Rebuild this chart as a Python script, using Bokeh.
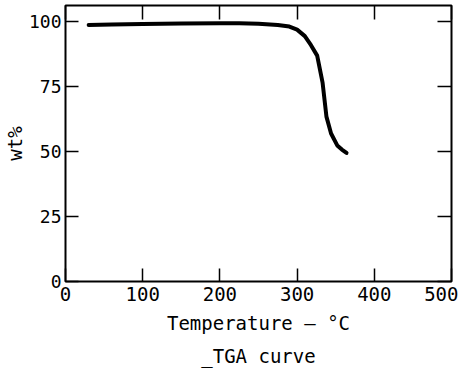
from bokeh.plotting import figure
from bokeh.models import LinearAxis, FixedTicker, Range1d
from bokeh.embed import file_html
from bokeh.resources import INLINE

# Data
temperature = [30, 60, 100, 150, 200, 225, 250, 275, 290, 300, 310, 318, 326, 333, 338, 344, 352, 358, 364]
weight_pct = [98.8, 99.0, 99.2, 99.4, 99.5, 99.5, 99.3, 98.8, 98.2, 97.0, 94.5, 91.0, 87.0, 76.6, 63.5, 57.0, 52.4, 50.8, 49.5]

x_ticks = [0, 100, 200, 300, 400, 500]
y_ticks = [0, 25, 50, 75, 100]
caption = "_TGA curve"

FONT = "DejaVu Sans Mono"
FS = "19px"

p = figure(width=458, height=369, output_backend="svg", toolbar_location=None,
           x_range=Range1d(0, 500), y_range=Range1d(0, 106.3),
           min_border_left=50, min_border_right=7, min_border_top=5, min_border_bottom=0,
           x_axis_label="Temperature \u2014 \u00b0C", y_axis_label="wt%")

p.line(temperature, weight_pct, line_width=4, line_color="black", line_cap="round", line_join="round")

p.grid.visible = False
p.outline_line_color = "black"
p.outline_line_width = 2
p.background_fill_color = "white"
p.border_fill_color = "white"

for ax in (p.xaxis[0], p.yaxis[0]):
    ax.axis_line_color = None
    ax.major_tick_in = 13
    ax.major_tick_out = 0
    ax.major_tick_line_width = 1.5
    ax.major_tick_line_color = "black"
    ax.minor_tick_line_color = None
    ax.major_label_text_font = FONT
    ax.major_label_text_font_size = FS
    ax.major_label_text_color = "black"
    ax.axis_label_text_font = FONT
    ax.axis_label_text_font_size = FS
    ax.axis_label_text_font_style = "normal"
    ax.axis_label_text_color = "black"

p.yaxis[0].major_label_text_font_size = "18px"
p.xaxis[0].ticker = FixedTicker(ticks=x_ticks)
p.yaxis[0].ticker = FixedTicker(ticks=y_ticks)
p.xaxis[0].major_label_standoff = 5
p.xaxis[0].axis_label_standoff = 8
p.yaxis[0].major_label_standoff = 4
p.yaxis[0].axis_label_standoff = 0

top = LinearAxis(ticker=FixedTicker(ticks=x_ticks))
right = LinearAxis(ticker=FixedTicker(ticks=y_ticks))
for ax in (top, right):
    ax.axis_line_color = None
    ax.major_tick_in = 14
    ax.major_tick_out = 0
    ax.major_tick_line_width = 1.5
    ax.major_tick_line_color = "black"
    ax.minor_tick_line_color = None
    ax.major_label_text_font_size = "0px"
    ax.major_label_text_color = None
    ax.major_label_standoff = 0
p.add_layout(top, "above")
p.add_layout(right, "right")

# caption below the x-axis title, drawn as the label of a tickless axis
cap_axis = LinearAxis(ticker=FixedTicker(ticks=[]), axis_label=caption)
cap_axis.axis_line_color = None
cap_axis.major_tick_in = 0
cap_axis.major_tick_out = 0
cap_axis.minor_tick_line_color = None
cap_axis.major_label_text_font_size = "0px"
cap_axis.major_label_standoff = 0
cap_axis.axis_label_standoff = 8
cap_axis.axis_label_text_font = FONT
cap_axis.axis_label_text_font_size = FS
cap_axis.axis_label_text_font_style = "normal"
cap_axis.axis_label_text_color = "black"
p.add_layout(cap_axis, "below")

open("out.html", "w").write(file_html(p, INLINE))
